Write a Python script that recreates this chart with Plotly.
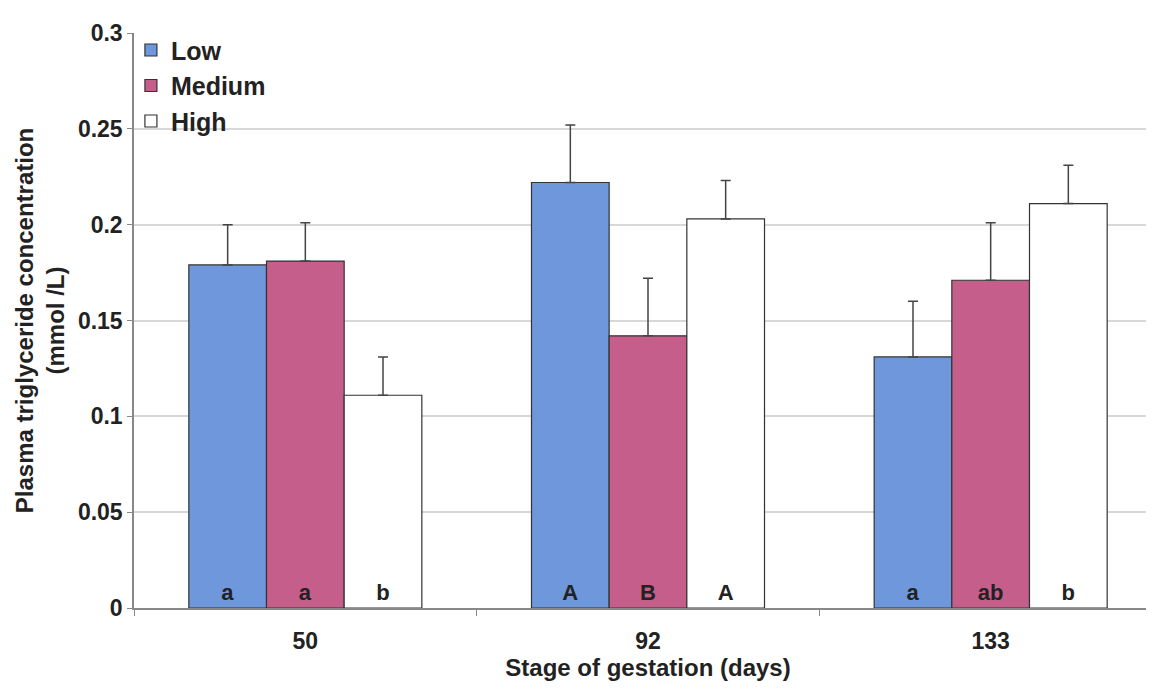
import plotly.graph_objects as go

stages = ["50", "92", "133"]
series = ["Low", "Medium", "High"]
low = [0.179, 0.222, 0.131]
medium = [0.181, 0.142, 0.171]
high = [0.111, 0.203, 0.211]
low_err = [0.021, 0.030, 0.029]
medium_err = [0.020, 0.030, 0.030]
high_err = [0.020, 0.020, 0.020]
low_letters = ["a", "A", "a"]
medium_letters = ["a", "B", "ab"]
high_letters = ["b", "A", "b"]

colors = ["#6E97DC", "#C65E8C", "#FFFFFF"]
values = [low, medium, high]
errors = [low_err, medium_err, high_err]
letters = [low_letters, medium_letters, high_letters]

fig = go.Figure()
for name, vals, errs, txt, col in zip(series, values, errors, letters, colors):
    fig.add_trace(go.Bar(
        name=name, x=stages, y=vals, text=txt,
        textposition="inside", insidetextanchor="start",
        textangle=0,
        textfont=dict(family="Liberation Sans", size=22, color="#222222", weight="bold"),
        marker=dict(color=col, line=dict(color="#333333", width=1.2)),
        error_y=dict(type="data", array=errs, arrayminus=[0, 0, 0], symmetric=False,
                     color="#444444", thickness=1.5, width=5),
    ))

fig.update_layout(
    width=1154, height=690,
    margin=dict(l=126, r=0, t=25, b=90),
    paper_bgcolor="white", plot_bgcolor="white",
    barmode="group", bargap=0.32, bargroupgap=0,
    font=dict(family="Liberation Sans", size=23, color="#222222"),
    uniformtext=dict(minsize=10, mode="show"),
    legend=dict(x=-0.003, y=1.01, xanchor="left", yanchor="top",
                font=dict(size=25, weight="bold"), bgcolor="rgba(0,0,0,0)",
                tracegroupgap=0, itemwidth=30),
    showlegend=True,
)
fig.update_yaxes(
    range=[0, 0.3], dtick=0.05, showgrid=True, gridcolor="#D8D8D8", gridwidth=1.5,
    showline=True, linecolor="#888888", linewidth=1.5, mirror=True,
    ticks="outside", ticklen=5, tickcolor="#888888",
    tickfont=dict(size=23, weight="bold"), automargin=False,
    title=dict(text="Plasma triglyceride concentration<br>(mmol /L)",
               font=dict(size=24, weight="bold"), standoff=6),
    zeroline=False,
)
fig.update_xaxes(
    type="category", showline=True, linecolor="#888888", linewidth=1.5,
    ticks="outside", tickson="boundaries", ticklen=6, tickcolor="#888888",
    tickfont=dict(size=23, weight="bold"), ticklabelstandoff=12, automargin=False,
    title=dict(text="Stage of gestation (days)", font=dict(size=24, weight="bold"), standoff=6),
)

fig.write_html("out.html")
